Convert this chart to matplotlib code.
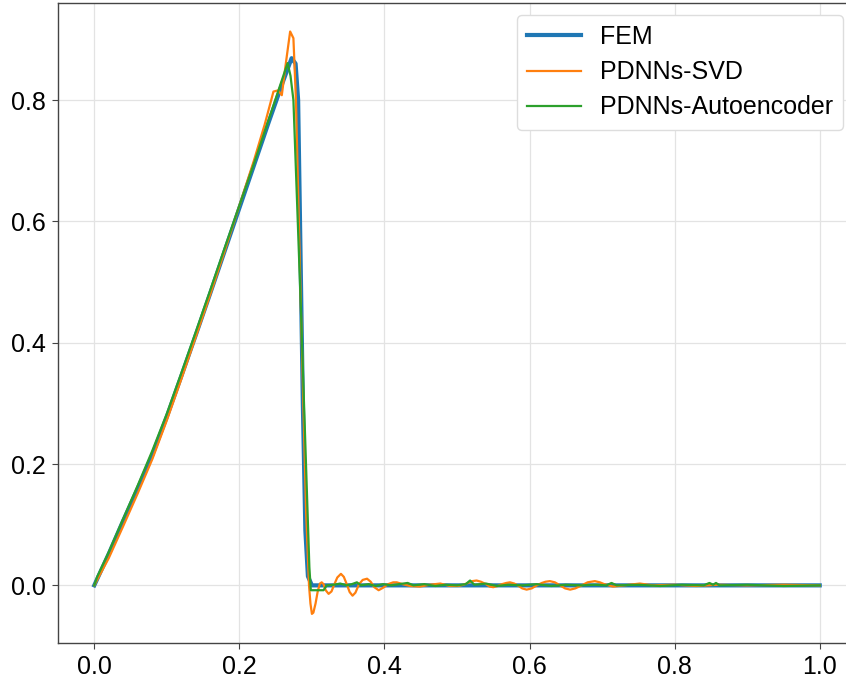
import matplotlib
matplotlib.use("Agg")
import matplotlib.pyplot as plt

plt.rcParams['font.family'] = ['Liberation Sans', 'DejaVu Sans']

# Reference finite-element solution
fem_x = [0.0, 0.02, 0.04, 0.06, 0.08, 0.10, 0.12, 0.14, 0.16, 0.18, 0.20,
         0.22, 0.24, 0.26, 0.272, 0.2775, 0.281, 0.2875, 0.291, 0.2945, 0.30, 1.0]
fem_y = [0.0, 0.052, 0.107, 0.160, 0.215, 0.278, 0.345, 0.413, 0.482, 0.552, 0.622,
         0.692, 0.762, 0.830, 0.869, 0.860, 0.800, 0.300, 0.090, 0.015, 0.0, 0.0]

# PDNNs with SVD reduction
svd_x = [0.0, 0.02, 0.04, 0.06, 0.08, 0.10, 0.12, 0.14, 0.16, 0.18, 0.20, 0.22,
         0.235, 0.247, 0.2535, 0.2585, 0.264, 0.270, 0.2745, 0.278, 0.285, 0.292,
         0.296, 0.298, 0.300, 0.302, 0.305, 0.308, 0.311, 0.3135, 0.316, 0.319,
         0.323, 0.327, 0.331, 0.335, 0.340, 0.344, 0.348, 0.352, 0.356, 0.360,
         0.365, 0.370, 0.376, 0.381, 0.386, 0.392, 0.398, 0.405, 0.412, 0.417,
         0.425, 0.435, 0.449, 0.462, 0.477, 0.490, 0.502, 0.509, 0.515, 0.521,
         0.527, 0.533, 0.540, 0.545, 0.550, 0.556, 0.562, 0.568, 0.573, 0.579,
         0.585, 0.590, 0.596, 0.603, 0.610, 0.617, 0.622, 0.628, 0.635, 0.642,
         0.649, 0.656, 0.663, 0.672, 0.680, 0.690, 0.697, 0.703, 0.715, 0.730,
         0.752, 0.770, 0.800, 0.830, 0.860, 0.900, 0.950, 1.000]
svd_y = [0.0, 0.045, 0.098, 0.152, 0.208, 0.272, 0.340, 0.410, 0.480, 0.552, 0.626, 0.700,
         0.760, 0.814, 0.816, 0.808, 0.860, 0.913, 0.902, 0.800, 0.450, 0.120,
         0.0, -0.030, -0.047, -0.045, -0.030, -0.010, 0.003, 0.005, 0.002, -0.008,
         -0.014, -0.010, 0.002, 0.013, 0.019, 0.014, 0.002, -0.011, -0.017, -0.012,
         0.002, 0.009, 0.011, 0.006, -0.003, -0.008, -0.004, 0.002, 0.005, 0.005,
         0.002, -0.001, -0.002, 0.001, 0.003, -0.001, -0.001, 0.001, 0.004, 0.007,
         0.008, 0.006, 0.002, -0.002, -0.003, -0.001, 0.002, 0.004, 0.005, 0.003,
         -0.001, -0.005, -0.007, -0.005, 0.000, 0.004, 0.006, 0.007, 0.005, 0.000,
         -0.005, -0.007, -0.005, 0.000, 0.005, 0.007, 0.005, 0.002, -0.002, 0.000,
         0.003, 0.000, 0.001, -0.001, 0.001, 0.000, 0.001, 0.000]

# PDNNs with autoencoder reduction
ae_x = [0.0, 0.004, 0.02, 0.04, 0.06, 0.08, 0.10, 0.12, 0.14, 0.16, 0.18, 0.20,
        0.22, 0.24, 0.255, 0.2665, 0.2705, 0.2745, 0.285, 0.2965, 0.2985, 0.316,
        0.3205, 0.330, 0.339, 0.348, 0.355, 0.362, 0.368, 0.378, 0.388, 0.398,
        0.410, 0.420, 0.432, 0.440, 0.455, 0.470, 0.485, 0.500, 0.512, 0.518,
        0.524, 0.540, 0.555, 0.570, 0.590, 0.610, 0.630, 0.650, 0.670, 0.690,
        0.706, 0.713, 0.720, 0.750, 0.780, 0.810, 0.840, 0.848, 0.853, 0.857,
        0.862, 0.900, 0.950, 1.000]
ae_y = [0.0, 0.014, 0.055, 0.110, 0.165, 0.222, 0.283, 0.350, 0.418, 0.487, 0.557, 0.626,
        0.695, 0.766, 0.820, 0.861, 0.840, 0.800, 0.450, 0.030, -0.008, -0.008,
        0.000, 0.001, 0.003, 0.000, 0.002, 0.005, 0.000, 0.002, -0.001, 0.002,
        0.000, 0.002, 0.004, 0.000, 0.002, -0.001, 0.001, 0.000, 0.002, 0.008,
        0.001, 0.003, -0.001, 0.001, 0.000, 0.002, -0.001, 0.001, 0.000, 0.001,
        0.000, 0.004, 0.000, 0.001, -0.001, 0.001, 0.000, 0.004, 0.001, 0.004,
        0.000, 0.001, -0.001, 0.000]

labels = ["FEM", "PDNNs-SVD", "PDNNs-Autoencoder"]
xticks = [0.0, 0.2, 0.4, 0.6, 0.8, 1.0]
yticks = [0.0, 0.2, 0.4, 0.6, 0.8]

W, H = 846, 681
fig = plt.figure(figsize=(W / 100, H / 100), dpi=100)
# the plotting area runs past the right edge of the canvas
ax_left, ax_right, ax_top, ax_bottom = 58, 856, 3, 643
ax = fig.add_axes([ax_left / W, 1 - ax_bottom / H,
                   (ax_right - ax_left) / W, (ax_bottom - ax_top) / H])

ax.plot(fem_x, fem_y, color='#1f77b4', lw=3.0, label=labels[0], zorder=2)
ax.plot(svd_x, svd_y, color='#ff7f0e', lw=1.6, label=labels[1], zorder=3)
ax.plot(ae_x, ae_y, color='#2ca02c', lw=1.6, label=labels[2], zorder=4)

ax.set_xlim(-0.05, 1.05)
ax.set_ylim(-0.095, 0.96)
ax.set_xticks(xticks)
ax.set_yticks(yticks)
ax.set_xticklabels([f"{v:.1f}" for v in xticks])
ax.set_yticklabels([f"{v:.1f}" for v in yticks])
ax.grid(True, color='#e3e3e3', lw=0.9)
ax.set_axisbelow(True)
for s in ax.spines.values():
    s.set_color('#444444')
    s.set_linewidth(1.0)
ax.tick_params(labelsize=18, length=4, color='#444444', labelcolor='black', pad=5)

frac_x = (843 - ax_left) / (ax_right - ax_left)
frac_y = 1 - (15 - ax_top) / (ax_bottom - ax_top)
leg = ax.legend(loc='upper right', bbox_to_anchor=(frac_x, frac_y), borderaxespad=0,
                fontsize=18, handlelength=2.15, handletextpad=0.75,
                labelspacing=0.45, framealpha=1.0, edgecolor='#dddddd',
                fancybox=True)

fig.savefig("out.png", dpi=100)
